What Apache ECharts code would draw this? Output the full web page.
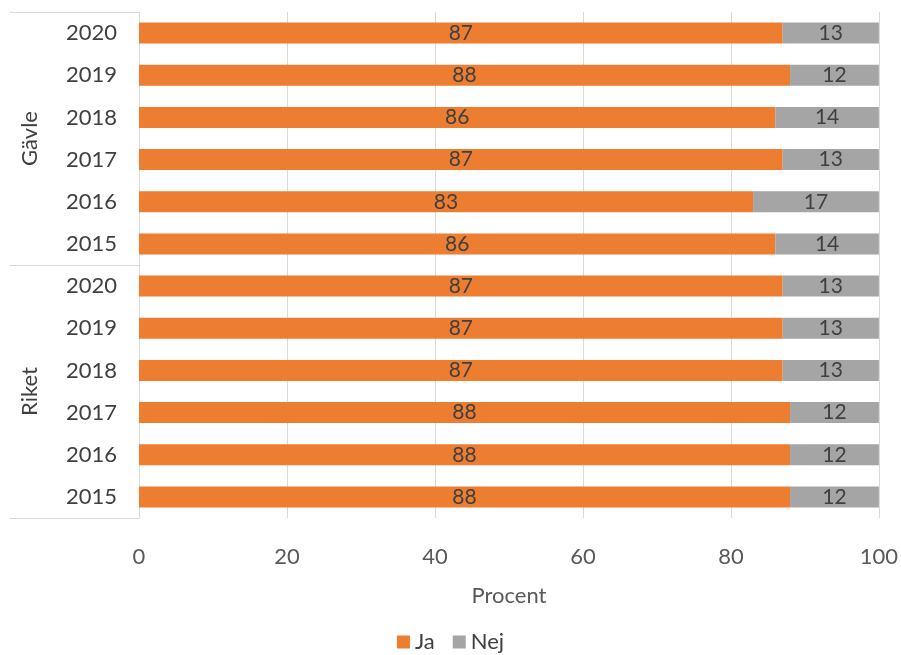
<!DOCTYPE html>
<html><head><meta charset="utf-8">
<script src="https://cdn.jsdelivr.net/npm/echarts@6/dist/echarts.min.js"></script>
<style>html,body{margin:0;padding:0;background:#fff}#c{width:901px;height:655px}</style>
</head><body><div id="c"></div>
<script>
// bottom-to-top order
const years = ['2015','2016','2017','2018','2019','2020','2015','2016','2017','2018','2019','2020'];
const groups = ['Riket','Gävle'];
const ja  = [88, 88, 88, 87, 87, 87, 86, 83, 87, 86, 88, 87];
const nej = [12, 12, 12, 13, 13, 13, 14, 17, 13, 14, 12, 13];
const xTicks = [0, 20, 40, 60, 80, 100];

const font = 'Lato';
const txt = '#404040';
const chart = echarts.init(document.getElementById('c'));
chart.setOption({
  animation: false,
  textStyle: {fontFamily: font},
  grid: {left: 139, right: 22, top: 12, bottom: 137},
  legend: {
    bottom: -3, left: 'center', itemWidth: 13, itemHeight: 13, itemGap: 18,
    icon: 'rect', textStyle: {fontSize: 22, color: txt, fontFamily: font},
    data: ['Ja', 'Nej']
  },
  xAxis: {
    type: 'value', min: xTicks[0], max: xTicks[xTicks.length-1], interval: 20,
    axisLine: {show: false}, axisTick: {show: false},
    splitLine: {lineStyle: {color: '#d9d9d9'}},
    axisLabel: {fontSize: 22, color: '#595959', margin: 28},
    name: 'Procent', nameLocation: 'middle', nameGap: 67,
    nameTextStyle: {fontSize: 22, color: '#595959'}
  },
  yAxis: [{
    type: 'category', data: years,
    axisLine: {show: true, lineStyle: {color: '#d9d9d9'}},
    axisTick: {show: false},
    axisLabel: {fontSize: 22, color: txt, margin: 22}
  }, {
    type: 'category', data: groups, position: 'left', offset: 129,
    axisLine: {show: false},
    axisTick: {show: true, inside: true, length: 129, lineStyle: {color: '#d9d9d9'}},
    axisLabel: {inside: true, rotate: 90, fontSize: 22, color: txt, margin: 9}
  }],
  series: [{
    name: 'Ja', type: 'bar', stack: 'a', data: ja, barWidth: 21,
    itemStyle: {color: '#ED7D31'},
    label: {show: true, position: 'inside', fontSize: 21, color: txt, fontFamily: font}
  }, {
    name: 'Nej', type: 'bar', stack: 'a', data: nej, barWidth: 21,
    itemStyle: {color: '#A5A5A5'},
    label: {show: true, position: 'inside', fontSize: 21, color: txt, fontFamily: font}
  }]
});
</script></body></html>
